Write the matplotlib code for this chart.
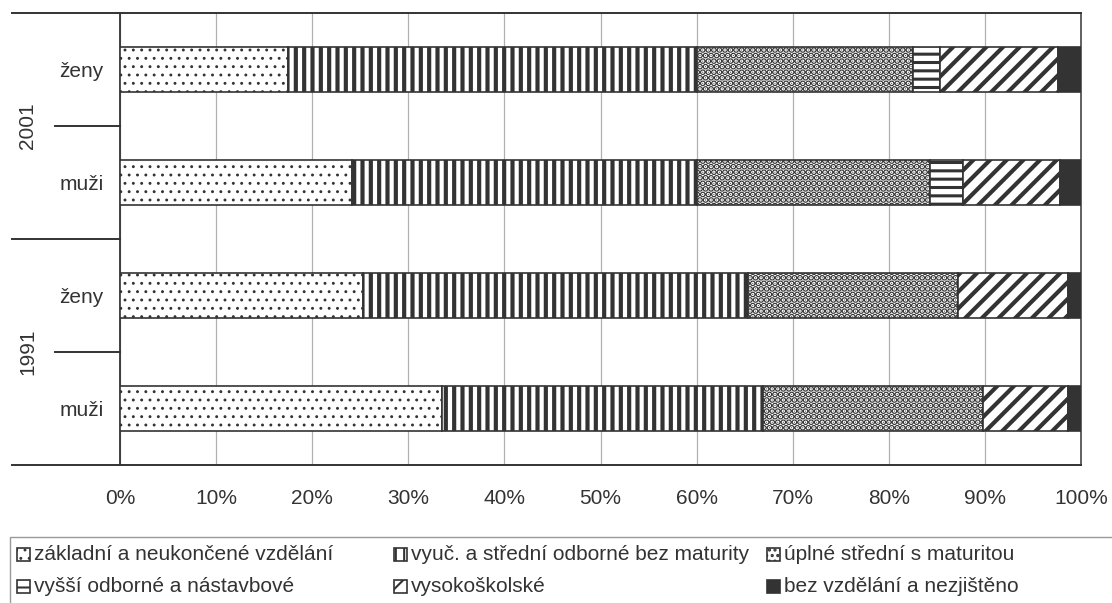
import matplotlib
matplotlib.use("Agg")
import matplotlib.pyplot as plt
from matplotlib.patches import Rectangle
from matplotlib.transforms import blended_transform_factory

# categories bottom -> top
groups = ["muži", "ženy", "muži", "ženy"]
years = ["1991", "2001"]

series_names = [
    "základní a neukončené vzdělání",
    "vyuč. a střední odborné bez maturity",
    "úplné střední s maturitou",
    "vyšší odborné a nástavbové",
    "vysokoškolské",
    "bez vzdělání a nezjištěno",
]
# shares in % (muži 1991, ženy 1991, muži 2001, ženy 2001)
zakladni = [33.5, 25.3, 24.1, 17.5]
vyucni = [33.4, 40.1, 35.9, 42.5]
uplne = [22.9, 21.8, 24.3, 22.5]
vyssi = [0.0, 0.0, 3.4, 2.8]
vysoko = [8.8, 11.4, 10.1, 12.3]
bez = [1.4, 1.4, 2.2, 2.4]
values = [zakladni, vyucni, uplne, vyssi, vysoko, bez]

# hatch, hatch linewidth, face
styles = [
    ("..", 0.9, "white"),
    ("||", 3.0, "white"),
    ("...", 3.2, "white"),
    ("--", 2.2, "white"),
    ("//", 3.0, "white"),
    ("", 1.0, "#333333"),
]
ink = "#333333"
plt.rcParams["font.family"] = "Liberation Sans"

fig = plt.figure(figsize=(11.12, 6.03), dpi=100)
ax = fig.add_axes([120 / 1112, 1 - 465 / 603, 961 / 1112, 452 / 603])

ypos = list(range(len(groups)))
left = [0.0] * len(groups)
for vals, (h, hlw, fc) in zip(values, styles):
    plt.rcParams["hatch.linewidth"] = hlw
    plt.rcParams["hatch.color"] = ink
    bars = ax.barh(ypos, vals, left=left, height=0.39, color=fc,
                   edgecolor=ink, hatch=h, linewidth=1.2, zorder=3)
    for b in bars:
        if hasattr(b, "set_hatch_linewidth"):
            b.set_hatch_linewidth(hlw)
    left = [l + v for l, v in zip(left, vals)]

ax.set_xlim(0, 100)
ax.set_ylim(-0.5, 3.5)
ax.set_xticks(range(0, 101, 10))
ax.set_xticklabels([f"{t}%" for t in range(0, 101, 10)], fontsize=15, color="#333333")
ax.tick_params(axis="x", length=0, pad=17)
ax.set_yticks(ypos)
ax.set_yticklabels(groups, fontsize=15, color="#333333")
ax.tick_params(axis="y", length=0, pad=12)
ax.grid(axis="x", color="#b0b0b0", linewidth=0.9, zorder=0)
for s in ["top", "bottom"]:
    ax.spines[s].set_visible(False)
ax.spines["left"].set_color(ink)
ax.spines["left"].set_linewidth(1.3)
ax.spines["right"].set_color("#555555")
ax.spines["right"].set_linewidth(1.3)

# category axis separators
tr = blended_transform_factory(ax.transAxes, ax.transData)
x_far = -108 / 961
x_near = -65 / 961
for y, x0 in [(3.5, x_far), (-0.5, x_far), (1.5, x_far), (2.5, x_near), (0.5, x_near)]:
    x1 = 1.0 if y in (3.5, -0.5) else 0.0
    ax.plot([x0, x1], [y, y], color=ink, linewidth=1.4, transform=tr, clip_on=False, zorder=4)
for yr, yc in zip(years, [0.5, 2.5]):
    ax.text(-92 / 961, yc, yr, transform=tr, rotation=90, ha="center", va="center",
            fontsize=15, color="#333333")

# legend box (runs off the right / bottom edge)
fig.add_artist(Rectangle((10 / 1112, -0.05), 1.1, 1.05 - 537 / 603, transform=fig.transFigure,
                         facecolor="none", edgecolor="#999999", linewidth=1.0))
cols = [23, 400, 773]
rows = [554, 586]
for i, (name, (h, hlw, fc)) in enumerate(zip(series_names, styles)):
    cx = cols[i % 3]
    cy = rows[i // 3]
    plt.rcParams["hatch.linewidth"] = min(hlw, 1.5)
    r = Rectangle(((cx - 6.5) / 1112, 1 - (cy + 6.5) / 603), 13 / 1112, 13 / 603,
                  facecolor=fc, edgecolor=ink, hatch=h, linewidth=1.2,
                  transform=fig.transFigure)
    fig.add_artist(r)
    fig.text((cx + 11) / 1112, 1 - cy / 603, name, fontsize=15, color="#333333",
             ha="left", va="center")

fig.savefig("out.png", dpi=100)
